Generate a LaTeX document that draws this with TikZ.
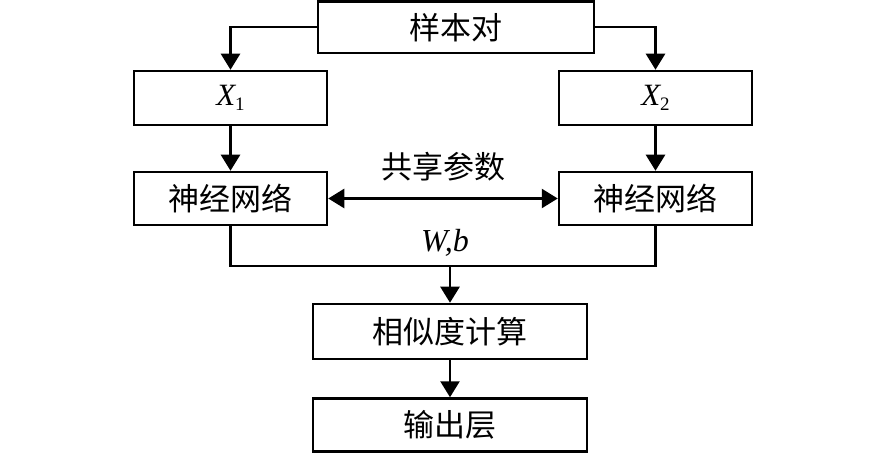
\documentclass[tikz,border=0pt]{standalone}
\usepackage{fontspec}
\setmainfont{Liberation Serif}
\newfontfamily\cjk{Noto Sans CJK SC}
\usetikzlibrary{arrows.meta}
\tikzset{
  box/.style={draw, line width=2.5pt, rectangle, inner sep=0pt, font=\cjk\fontsize{31}{31}\selectfont},
  conn/.style={line width=2.5pt},
  arr/.style={line width=2.5pt, -{Triangle[length=16pt,width=19pt]}},
  lbl/.style={inner sep=0pt, font=\rmfamily\fontsize{32}{32}\selectfont},
  xfont/.style={font=\rmfamily\fontsize{31}{31}\selectfont}
}
\begin{document}
\begin{tikzpicture}[x=1pt,y=-1pt]
\useasboundingbox (0,0) rectangle (886,454);
\node[box, minimum width=276pt, minimum height=51.5pt] (top) at (456,27.2) {样本对};
\node[box, xfont, minimum width=193pt, minimum height=54pt] (x1) at (230.5,98) {\itshape X\raisebox{-0.4ex}{\upshape\fontsize{19}{19}\selectfont 1}};
\node[box, xfont, minimum width=193pt, minimum height=54pt] (x2) at (655.5,98) {\itshape X\raisebox{-0.4ex}{\upshape\fontsize{19}{19}\selectfont 2}};
\node[box, minimum width=193pt, minimum height=53pt] (n1) at (230.5,198.5) {神经网络};
\node[box, minimum width=193pt, minimum height=53pt] (n2) at (655.5,198.5) {神经网络};
\node[box, minimum width=274pt, minimum height=55pt] (sim) at (450,331.5) {相似度计算};
\node[box, minimum width=274pt, minimum height=53pt] (out) at (450,425) {输出层};
\node[lbl, font=\cjk\fontsize{31}{31}\selectfont] (share) at (443,167) {共享参数};
\node[lbl] (wb) at (445,243) {\itshape W,b};
\coordinate (m) at (450,266);
\draw[arr] (top.west) -| (x1.north);
\draw[arr] (top.east) -| (x2.north);
\draw[arr] (x1) -- (n1);
\draw[arr] (x2) -- (n2);
\draw[line width=2.5pt, {Triangle[length=16pt,width=19pt]}-{Triangle[length=16pt,width=19pt]}] (n1.east) -- (n2.west);
\draw[conn] (n1.south) |- (m) -| (n2.south);
\draw[arr] (m) -- (sim.north);
\draw[arr] (sim) -- (out);
\end{tikzpicture}
\end{document}
